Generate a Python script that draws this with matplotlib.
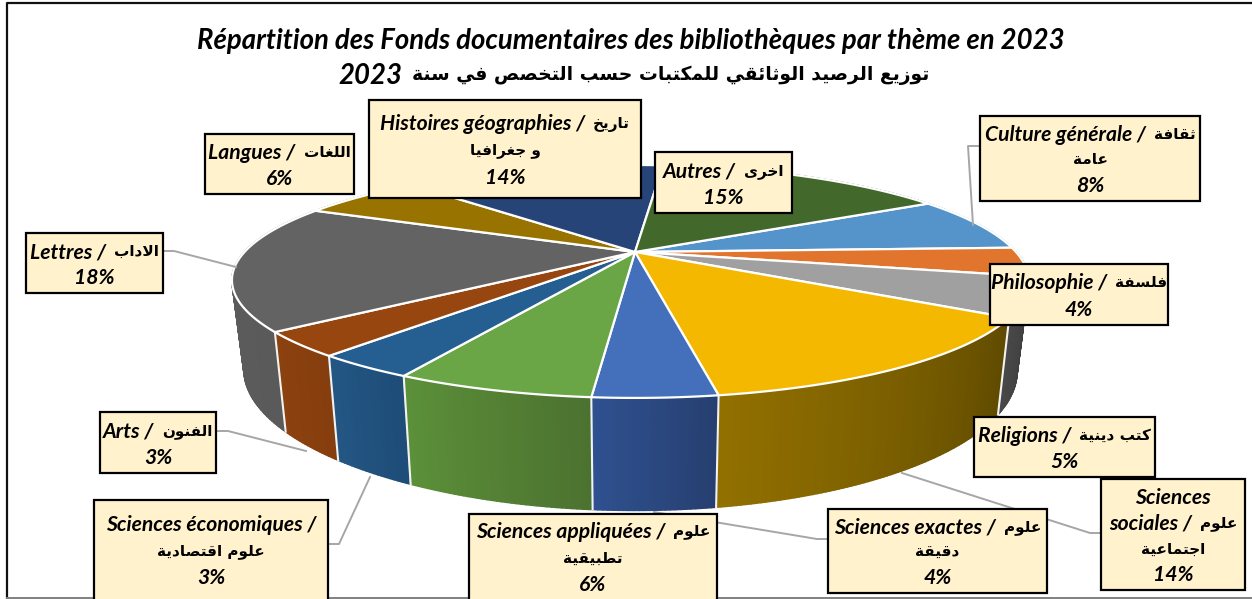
import numpy as np
import matplotlib
matplotlib.use("Agg")
import matplotlib.pyplot as plt
from matplotlib.collections import PolyCollection
from matplotlib.colors import to_rgb
from matplotlib.patches import Polygon, Rectangle

# values in pie order, clockwise from Culture générale (before rounding)
categories = ["Culture générale", "Philosophie", "Religions", "Sciences sociales",
              "Sciences exactes", "Sciences appliquées", "Sciences économiques",
              "Arts", "Lettres", "Langues", "Histoires géographies", "Autres"]
values = [7.7, 4.0, 5.4, 13.6, 4.0, 6.4, 3.3, 3.3, 17.5, 6.1, 13.5, 15.2]

top_colors = ["#5593cb", "#e2752e", "#a0a0a0", "#f4b800", "#4470bb", "#6aa646",
              "#255e91", "#974610", "#636363", "#997300", "#264478", "#43682b"]
wall_start = ["#4a80b0", "#404040", "#3c3c3c", "#5f4a00", "#263f70", "#4c7230",
              "#1f4c78", "#863e0e", "#5a5a5a", "#806000", "#203a66", "#385724"]
wall_end = ["#4a80b0", "#404040", "#484848", "#927000", "#2f5190", "#5c9039",
            "#235784", "#8c420f", "#5f5f5f", "#806000", "#203a66", "#385724"]

title_fr = "Répartition des Fonds documentaires des bibliothèques par thème en 2023"
title_ar = "توزيع الرصيد الوثائقي للمكتبات حسب التخصص في سنة"

# Arabic letters as (isolated, final, initial, medial), matplotlib does not shape them
forms = {
    "ا": "ﺍﺎ", "أ": "ﺃﺄ", "د": "ﺩﺪ", "ذ": "ﺫﺬ", "ر": "ﺭﺮ", "ز": "ﺯﺰ", "و": "ﻭﻮ", "ة": "ﺓﺔ", "ى": "ﻯﻰ",
    "ب": "ﺏﺐﺑﺒ", "ت": "ﺕﺖﺗﺘ", "ث": "ﺙﺚﺛﺜ", "ج": "ﺝﺞﺟﺠ", "ح": "ﺡﺢﺣﺤ", "خ": "ﺥﺦﺧﺨ",
    "س": "ﺱﺲﺳﺴ", "ش": "ﺵﺶﺷﺸ", "ص": "ﺹﺺﺻﺼ", "ض": "ﺽﺾﺿﻀ", "ط": "ﻁﻂﻃﻄ", "ظ": "ﻅﻆﻇﻈ",
    "ع": "ﻉﻊﻋﻌ", "غ": "ﻍﻎﻏﻐ", "ف": "ﻑﻒﻓﻔ", "ق": "ﻕﻖﻗﻘ", "ك": "ﻙﻚﻛﻜ", "ل": "ﻝﻞﻟﻠ",
    "م": "ﻡﻢﻣﻤ", "ن": "ﻥﻦﻧﻨ", "ه": "ﻩﻪﻫﻬ", "ي": "ﻱﻲﻳﻴ", "ئ": "ﺉﺊﺋﺌ",
}


def ar(text):
    out = []
    for word in text.split(" "):
        word = word.replace("لا", "\ufefb")
        shaped = ""
        for i, c in enumerate(word):
            prev = word[i - 1] if i > 0 else ""
            joined_before = len(forms.get(prev, "")) == 4
            if c == "\ufefb":
                shaped += "\ufefc" if joined_before else c
                continue
            f = forms[c]
            joins_after = len(f) == 4 and i < len(word) - 1
            if joined_before and joins_after:
                shaped += f[3]
            elif joined_before:
                shaped += f[1]
            elif joins_after:
                shaped += f[2]
            else:
                shaped += f[0]
        out.append(shaped[::-1])
    return " ".join(out[::-1])


# each line is (latin part, arabic part), drawn left to right
box_lines = [
    [("Culture générale /", "ثقافة"), ("", "عامة"), ("8%", "")],
    [("Philosophie /", "فلسفة"), ("4%", "")],
    [("Religions /", "كتب دينية"), ("5%", "")],
    [("Sciences", ""), ("sociales /", "علوم"), ("", "اجتماعية"), ("14%", "")],
    [("Sciences exactes /", "علوم"), ("", "دقيقة"), ("4%", "")],
    [("Sciences appliquées /", "علوم"), ("", "تطبيقية"), ("6%", "")],
    [("Sciences économiques /", ""), ("", "علوم اقتصادية"), ("3%", "")],
    [("Arts /", "الفنون"), ("3%", "")],
    [("Lettres /", "الاداب"), ("18%", "")],
    [("Langues /", "اللغات"), ("6%", "")],
    [("Histoires géographies /", "تاريخ"), ("", "و جغرافيا"), ("14%", "")],
    [("Autres /", "اخرى"), ("15%", "")],
]
# x0, x1, y0, y1 in pixels
boxes = [(980, 1200, 116, 201), (990, 1168, 264, 325), (974, 1155, 417, 477),
         (1101, 1245, 479, 590), (828, 1047, 509, 593), (469, 717, 514, 602),
         (94, 328, 500, 602), (100, 216, 412, 473), (26, 163, 233, 293),
         (205, 354, 134, 194), (369, 641, 100, 198), (655, 792, 152, 213)]
leaders = [
    [(980, 146), (968, 146), (973, 225)],
    [(1101, 533), (1090, 533), (902, 473)],
    [(828, 539), (817, 539), (654, 512)],
    [(328, 544), (339, 544), (370, 477)],
    [(216, 431), (228, 431), (306, 451)],
    [(163, 251), (174, 251), (236, 267)],
]

# pie geometry in pixels, the perspective makes the near side larger
cx, cy = 635, 252
radius_x, radius_y, k = 381, 109, 0.253
left_stretch = 0.025
depth = 84
shrink = 0.97
start_deg = 60


def project(angle_deg, lower=False):
    a = np.radians(angle_deg)
    u, v = np.sin(a), -np.cos(a)
    w = 1 - k * v
    if u < 0:
        u = u * (1 + left_stretch * u * u)
    x = radius_x * u / w
    y = radius_y * v / w
    if lower:
        return cx + x * shrink, cy + y + depth / w
    return cx + x, cy + y


fig = plt.figure(figsize=(12.52, 5.99), dpi=100)
ax = fig.add_axes([0, 0, 1, 1])
ax.set_xlim(0, 1252)
ax.set_ylim(599, 0)
ax.axis("off")
renderer = fig.canvas.get_renderer()

# frame of the pasted picture
ax.plot([7, 7, 1252], [598, 3, 3], color="#111111", lw=1.6, zorder=1)
ax.plot([7, 1252], [598, 598], color="#808080", lw=1.4, zorder=1)

edges = start_deg + np.cumsum([0] + values) / sum(values) * 360

# walls, far pieces first
quads, quad_colors, order = [], [], []
for i in range(len(values)):
    steps = np.linspace(edges[i], edges[i + 1], max(int(values[i] * 6), 4) + 1)
    c0, c1 = np.array(to_rgb(wall_start[i])), np.array(to_rgb(wall_end[i]))
    for j in range(len(steps) - 1):
        a0, a1 = steps[j], steps[j + 1]
        quads.append([project(a0), project(a1), project(a1, True), project(a0, True)])
        quad_colors.append(c0 + (c1 - c0) * j / (len(steps) - 2))
        order.append(-np.cos(np.radians((a0 + a1) / 2)))
idx = np.argsort(order)
quads = [quads[i] for i in idx]
quad_colors = [quad_colors[i] for i in idx]
ax.add_collection(PolyCollection(quads, facecolors=quad_colors, edgecolors=quad_colors,
                                 linewidths=1.2, zorder=2))

# white seams between the walls on the near side
for e in edges[:-1]:
    if -np.cos(np.radians(e)) > 0.3:
        p0, p1 = project(e), project(e, True)
        ax.plot([p0[0], p1[0]], [p0[1], p1[1]], color="#f2f2f2", lw=1.5, zorder=3)

# top face
for i in range(len(values)):
    arc = [project(a) for a in np.linspace(edges[i], edges[i + 1], 60)]
    ax.add_patch(Polygon([(cx, cy)] + arc, closed=True, facecolor=top_colors[i],
                         edgecolor="#ffffff", lw=1.6, joinstyle="round", zorder=4))

for pts in leaders:
    xs, ys = zip(*pts)
    ax.plot(xs, ys, color="#a6a6a6", lw=1.4, zorder=5)


def mixed_line(xc, y, latin, arabic, latin_font, latin_size, arabic_size, gap):
    # DejaVu Sans Bold Oblique has no Arabic, so the two parts are separate upright/italic texts
    parts = []
    if latin:
        parts.append(ax.text(0, y, latin, family=latin_font, weight="bold", style="italic",
                             fontsize=latin_size, ha="left", va="center_baseline", zorder=8))
    if arabic:
        parts.append(ax.text(0, y, ar(arabic), family="DejaVu Sans", weight="bold",
                             fontsize=arabic_size, ha="left", va="center_baseline", zorder=8))
    widths = [p.get_window_extent(renderer).width for p in parts]
    total = sum(widths) + gap * (len(parts) - 1)
    x = xc - total / 2
    for p, w in zip(parts, widths):
        p.set_x(x)
        x += w + gap


for (x0, x1, y0, y1), lines in zip(boxes, box_lines):
    ax.add_patch(Rectangle((x0, y0), x1 - x0, y1 - y0, facecolor="#fff2cc",
                           edgecolor="black", lw=1.6, zorder=7))
    step = min(26.5, (y1 - y0 - 8) / len(lines))
    y_top = (min(y1, 599) + y0) / 2 - step * (len(lines) - 1) / 2
    for n, (latin, arabic) in enumerate(lines):
        mixed_line((x0 + x1) / 2, y_top + n * step, latin, arabic, "Lato", 15.2, 11, 8)

ax.text(631, 41, title_fr, family="Lato", weight="bold", style="italic", fontsize=19.8,
        ha="center", va="center", zorder=8)
mixed_line(634, 73, "2023", title_ar, "Lato", 19.8, 13.5, 10)

fig.savefig("out.png", dpi=100)
